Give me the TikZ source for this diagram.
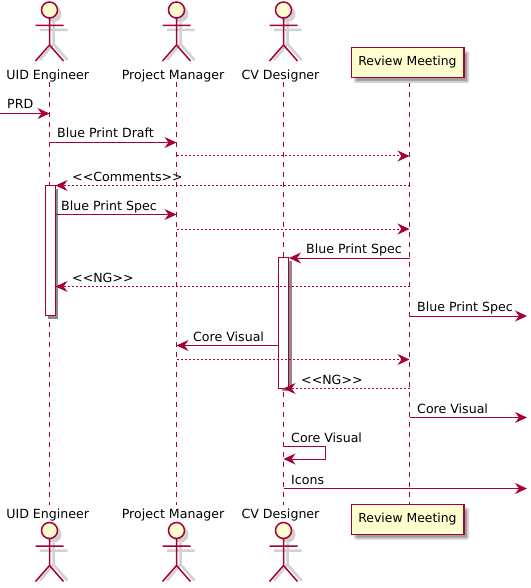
\documentclass[tikz,border=0pt]{standalone}
\usepackage{fontspec}
\setmainfont{DejaVu Sans}
\usetikzlibrary{positioning}
\usetikzlibrary{arrows.meta}
\definecolor{seqline}{HTML}{A80036}
\definecolor{seqfill}{HTML}{FEFECE}
\tikzset{
	lifeline/.style = {seqline, line width = 1pt, dash pattern = on 5pt off 5pt},
	msg/.style = {seqline, line width = 1pt, -{Stealth[length = 12pt, width = 11pt, inset = 4pt]}},
	reply/.style = {msg, dash pattern = on 2pt off 2pt},
	msgtext/.style = {anchor = base west, inner sep = 0pt, font = \fontsize{12.6}{15}\selectfont},
	nametext/.style = {anchor = base, inner sep = 0pt, font = \fontsize{12.6}{15}\selectfont},
	partbox/.style = {draw = seqline, fill = seqfill, line width = 1.5pt, minimum width = 112.5pt, minimum height = 30pt, inner sep = 0pt, font = \fontsize{12.4}{15}\selectfont},
	softshade/.style = {draw = black!18, line width = 2pt, fill = black!38, rounded corners = 1pt},
	activebox/.style = {draw = seqline, fill = white, line width = 1pt},
	actorfig/.pic = {
		\fill[black!18] (4, 14) circle (8);
		\draw[black!18, line width = 2.5pt] (4, 22)--(4, 44) (-9.5, 30)--(18, 30) (-9.5, 60)--(4, 44)--(18, 60);
		\draw[seqline, line width = 1.5pt, fill = seqfill] (0, 10) circle (8);
		\draw[seqline, line width = 1.5pt] (0, 18)--(0, 45) (-14, 25.5)--(14, 25.5) (-14, 61)--(0, 45)--(14, 61);
	}
}

\begin{document}
\begin{tikzpicture}[x = 1pt, y = -1pt]
	\useasboundingbox (0, 0) rectangle (530, 588);

	% lifelines
	\coordinate (uidTop) at (49.5, 82);
	\coordinate (uidEnd) at (49.5, 505);
	\coordinate (pmTop) at (176.5, 82);
	\coordinate (pmEnd) at (176.5, 505);
	\coordinate (cvTop) at (283.5, 82);
	\coordinate (cvEnd) at (283.5, 505);
	\coordinate (revTop) at (409.5, 82);
	\coordinate (revEnd) at (409.5, 505);
	\coordinate (left) at (0, 0);
	\coordinate (right) at (527, 0);
	\draw[lifeline] (uidTop)--(uidEnd);
	\draw[lifeline] (pmTop)--(pmEnd);
	\draw[lifeline] (cvTop)--(cvEnd);
	\draw[lifeline] (revTop)--(revEnd);

	% participants
	\pic at (49.5, 0) {actorfig};
	\pic at (176.5, 0) {actorfig};
	\pic at (283.5, 0) {actorfig};
	\pic at (49.5, 520.5) {actorfig};
	\pic at (176.5, 520.5) {actorfig};
	\pic at (283.5, 520.5) {actorfig};
	\node[nametext] (uidName) at (47.7, 80) {UID Engineer};
	\node[nametext] (pmName) at (173, 80) {Project Manager};
	\node[nametext] (cvName) at (280.5, 80) {CV Designer};
	\node[nametext] (uidFoot) at (47.7, 518) {UID Engineer};
	\node[nametext] (pmFoot) at (173, 518) {Project Manager};
	\node[nametext] (cvFoot) at (280.5, 518) {CV Designer};
	\fill[softshade] (355, 52) rectangle (468, 82);
	\fill[softshade] (355, 508.5) rectangle (468, 538.5);
	\node[partbox] (revHead) at (407.5, 62.5) {Review Meeting};
	\node[partbox] (revFoot) at (407.5, 519.5) {Review Meeting};

	% activations
	\fill[black!45] (48, 188.5) rectangle (58, 319);
	\node[activebox, minimum width = 10pt, minimum height = 130pt, inner sep = 0pt] (uidActive) at (50, 250.5) {};
	\fill[black!45] (281.5, 260.5) rectangle (291.5, 391);
	\node[activebox, minimum width = 10pt, minimum height = 130.5pt, inner sep = 0pt] (cvActive) at (283.5, 322.75) {};

	% messages
	\draw[msg] (left |- 0, 113.5)--(uidTop |- 0, 113.5);
	\node[msgtext] (prdText) at (7, 109) {PRD};
	\draw[msg] (uidTop |- 0, 142.5)--(pmTop |- 0, 142.5);
	\node[msgtext] (draftText) at (57, 138) {Blue Print Draft};
	\draw[reply] (pmTop |- 0, 156)--(revTop |- 0, 156);
	\draw[reply] (revTop |- 0, 185.5)--(uidActive.north east |- 0, 185.5);
	\node[msgtext] (commentText) at (72, 181) {<{}<Comments>{}>};
	\draw[msg] (uidActive.east |- 0, 214.5)--(pmTop |- 0, 214.5);
	\node[msgtext] (specTextA) at (61, 210) {Blue Print Spec};
	\draw[reply] (pmTop |- 0, 229)--(revTop |- 0, 229);
	\draw[msg] (revTop |- 0, 258)--(cvActive.east |- 0, 258);
	\node[msgtext] (specTextB) at (306, 253.5) {Blue Print Spec};
	\draw[reply] (revTop |- 0, 286.5)--(uidActive.east |- 0, 286.5);
	\node[msgtext] (ngTextA) at (72, 282) {<{}<NG>{}>};
	\draw[msg] (revTop |- 0, 316)--(right |- 0, 316);
	\node[msgtext] (specTextC) at (417, 311.5) {Blue Print Spec};
	\draw[msg] (cvActive.west |- 0, 345.5)--(pmTop |- 0, 345.5);
	\node[msgtext] (visualTextA) at (193, 341) {Core Visual};
	\draw[reply] (pmTop |- 0, 359.5)--(revTop |- 0, 359.5);
	\draw[reply] (revTop |- 0, 388.5)--(cvTop |- 0, 388.5);
	\node[msgtext] (ngTextB) at (301, 384) {<{}<NG>{}>};
	\draw[msg] (revTop |- 0, 417.5)--(right |- 0, 417.5);
	\node[msgtext] (visualTextB) at (417, 413) {Core Visual};
	\draw[msg] (cvTop |- 0, 446.5)--(325.5, 446.5)--(325.5, 459)--(cvTop |- 0, 459);
	\node[msgtext] (visualTextC) at (291, 442) {Core Visual};
	\draw[msg] (cvTop |- 0, 488.5)--(right |- 0, 488.5);
	\node[msgtext] (iconText) at (291, 484) {Icons};
\end{tikzpicture}
\end{document}
